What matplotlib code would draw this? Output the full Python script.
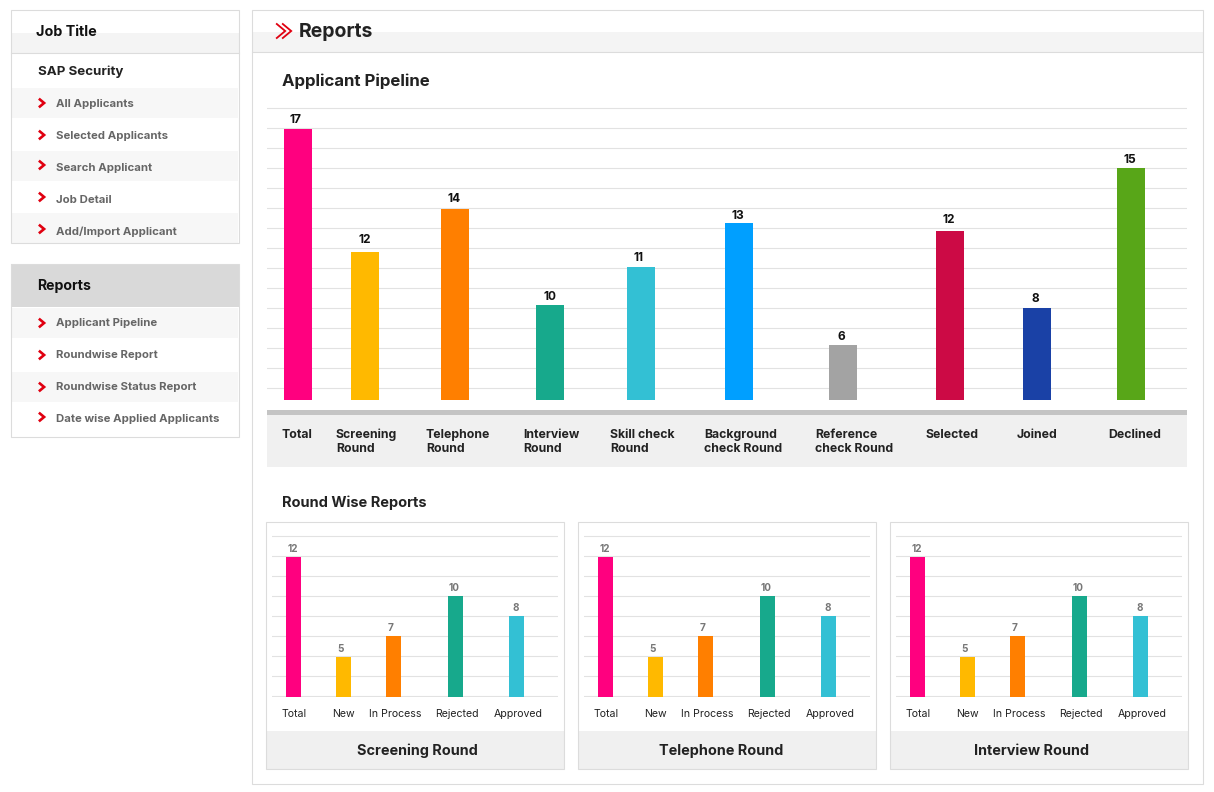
import matplotlib
matplotlib.use('Agg')
import matplotlib.pyplot as plt
from matplotlib.patches import Rectangle

plt.rcParams['font.family'] = ['Inter', 'DejaVu Sans']

W, H = 1214, 792

# main chart
stages = ['Total', 'Screening\nRound', 'Telephone\nRound', 'Interview\nRound', 'Skill check\nRound',
          'Background\ncheck Round', 'Reference\ncheck Round', 'Selected', 'Joined', 'Declined']
stage_counts = [17, 12, 14, 10, 11, 13, 6, 12, 8, 15]
# the drawn bars do not follow the printed counts, heights are read in gridline steps
stage_heights = [13.55, 7.4, 9.55, 4.75, 6.65, 8.85, 2.75, 8.45, 4.6, 11.6]
stage_colors = ['#ff007f', '#ffb900', '#ff7f00', '#17a98c', '#33c0d4', '#009fff', '#a3a3a3',
                '#cc0a45', '#1a41a6', '#58a618']

# small charts
round_titles = ['Screening Round', 'Telephone Round', 'Interview Round']
round_cats = ['Total', 'New', 'In Process', 'Rejected', 'Approved']
round_counts = [12, 5, 7, 10, 8]
round_heights = [7, 2, 3.05, 5.05, 4.05]
round_colors = ['#ff007f', '#ffb900', '#ff7f00', '#17a98c', '#33c0d4']

# sidebar
job_links = ['All Applicants', 'Selected Applicants', 'Search Applicant', 'Job Detail', 'Add/Import Applicant']
report_links = ['Applicant Pipeline', 'Roundwise Report', 'Roundwise Status Report', 'Date wise Applied Applicants']

# layout, pixels
stage_x = [298, 365, 455, 550, 641, 739, 843, 950, 1037, 1131]
stage_label_x = [282, 336, 426, 523, 610, 704, 815, 926, 1017, 1108]
count_dx = [-2, 0, -1, 0, -3, -1, -2, -1, -2, -1]
count_gap = [3, 6, 4, 2, 3, 1, 2, 5, 3, 2]
round_x = [27.5, 77.5, 127.5, 189.5, 250.5]
round_label_x = [28, 77.5, 129, 191, 252]
round_count_dx = [-0.5, -2.5, -2.5, -1.5, -0.5]
panel_left = [266, 578, 890]
title_x = [417, 721, 1031]

GRID = '#e2e2e2'
BORDER = '#dcdcdc'
DARK = '#222222'
GREY = '#666666'
RED = '#e00010'
LW = 0.8


def px_axes(fig, x0, y0, x1, y1):
    return fig.add_axes([x0 / W, 1 - y1 / H, (x1 - x0) / W, (y1 - y0) / H])


def box(ax, x0, y0, x1, y1, fc='none', ec='none', lw=LW, z=1):
    ax.add_patch(Rectangle((x0, y0), x1 - x0, y1 - y0, fc=fc, ec=ec, lw=lw, zorder=z))


def chevron(ax, x, y, s=3.5, lw=1.9):
    ax.plot([x - s * 0.6, x + s * 0.6, x - s * 0.6], [y - s, y, y + s], color=RED, lw=lw,
            solid_joinstyle='miter', zorder=4)


fig = plt.figure(figsize=(W / 100, H / 100), dpi=100, facecolor='white')

# page layer in pixel coordinates
bg = fig.add_axes([0, 0, 1, 1])
bg.set_xlim(0, W)
bg.set_ylim(H, 0)
bg.axis('off')

# job panel
box(bg, 11, 33, 239, 53, fc='#f4f4f4')
box(bg, 11, 10, 239, 243, ec=BORDER, z=3)
bg.plot([11, 239], [53, 53], color=BORDER, lw=LW, zorder=3)
bg.text(36, 32, 'Job Title', fontsize=10.3, fontweight='bold', color='#111111', va='center')
bg.text(38, 71.5, 'SAP Security', fontsize=9.6, fontweight='bold', color=DARK, va='center')
job_chevron_shift = [0, 0, -2, -2, -2]
for i, name in enumerate(job_links):
    y = 103 + i * 32
    if i % 2 == 0:
        top = 88 + i * 31.25
        box(bg, 12, top, 238, min(top + 30, 243), fc='#f7f7f7')
    chevron(bg, 42, y + job_chevron_shift[i])
    bg.text(56, y + 1, name, fontsize=8.2, fontweight='bold', color=GREY, va='center')

# reports panel
box(bg, 11, 264, 239, 307, fc='#d9d9d9')
box(bg, 11, 264, 239, 437, ec=BORDER, z=3)
bg.text(37, 286, 'Reports', fontsize=10.2, fontweight='bold', color='#111111', va='center')
for i, name in enumerate(report_links):
    y = 322 + i * 32
    if i % 2 == 0:
        box(bg, 12, y - 14, 238, y + 16, fc='#f7f7f7')
    chevron(bg, 42, y + 1 if i < 3 else y - 1)
    bg.text(56, y + 1, name, fontsize=8.2, fontweight='bold', color=GREY, va='center')

# main panel
box(bg, 253, 32, 1203, 52, fc='#f4f4f4')
box(bg, 252, 10, 1203, 784, ec=BORDER, z=3)
bg.plot([252, 1203], [52, 52], color=BORDER, lw=LW, zorder=3)
chevron(bg, 281, 31, s=7, lw=1.3)
chevron(bg, 287, 31, s=7, lw=1.3)
bg.text(299, 32, 'Reports', fontsize=14, fontweight='bold', color=DARK, va='center')
bg.text(282, 81, 'Applicant Pipeline', fontsize=12.1, fontweight='bold', color=DARK, va='center')
bg.text(282, 503, 'Round Wise Reports', fontsize=10.5, fontweight='bold', color=DARK, va='center')

# band under the main chart
box(bg, 267, 415, 1187, 467, fc='#f0f0f0')
box(bg, 267, 410, 1187, 415, fc='#c4c4c4')
for x, name in zip(stage_label_x, stages):
    for j, line in enumerate(name.split('\n')):
        bg.text(x, 435 + j * 14, line, fontsize=8.85, fontweight='bold', color=DARK, va='center')

# main chart, y is in gridline steps above the bar baseline (20 px each)
ax = px_axes(fig, 267, 100, 1187, 401)
ax.patch.set_alpha(0)
ax.set_xlim(267, 1187)
ax.set_ylim(-0.05, 15)
ax.bar(stage_x, stage_heights, width=28, color=stage_colors, zorder=3)
for x, h, c, dx, gap in zip(stage_x, stage_heights, stage_counts, count_dx, count_gap):
    ax.text(x + dx, h + gap / 20, str(c), ha='center', va='bottom', fontsize=8.6, fontweight='bold',
            color='#111111', zorder=4)
ax.set_yticks([0.6 + i for i in range(15)])
ax.grid(axis='y', color=GRID, lw=LW, zorder=0)
ax.set_xticks([])
ax.tick_params(left=False, labelleft=False)
for s in ax.spines.values():
    s.set_visible(False)

# round wise charts
for left, title, tx in zip(panel_left, round_titles, title_x):
    box(bg, left, 731, left + 298, 769, fc='#f0f0f0')
    box(bg, left, 522, left + 298, 769, ec=BORDER, z=3)
    bg.text(tx, 751, title, fontsize=10.4, fontweight='bold', color=DARK, ha='center', va='center')
    for x, name in zip(round_label_x, round_cats):
        bg.text(left + x, 714, name, fontsize=7.6, color=DARK, ha='center', va='center')

    sub = px_axes(fig, left + 6, 530, left + 292, 697)
    sub.patch.set_alpha(0)
    sub.set_xlim(0, 286)
    sub.set_ylim(0, 8.35)
    sub.bar([x - 6 for x in round_x], round_heights, width=15, color=round_colors, zorder=3)
    for x, h, c, dx in zip(round_x, round_heights, round_counts, round_count_dx):
        sub.text(x - 6 + dx, h + 0.14, str(c), ha='center', va='bottom', fontsize=7.2, fontweight='bold',
                 color='#777777', zorder=4)
    sub.set_yticks([0.05 + i for i in range(9)])
    sub.grid(axis='y', color=GRID, lw=LW, zorder=0)
    sub.set_xticks([])
    sub.tick_params(left=False, labelleft=False)
    for s in sub.spines.values():
        s.set_visible(False)

fig.savefig('out.png', dpi=100)
